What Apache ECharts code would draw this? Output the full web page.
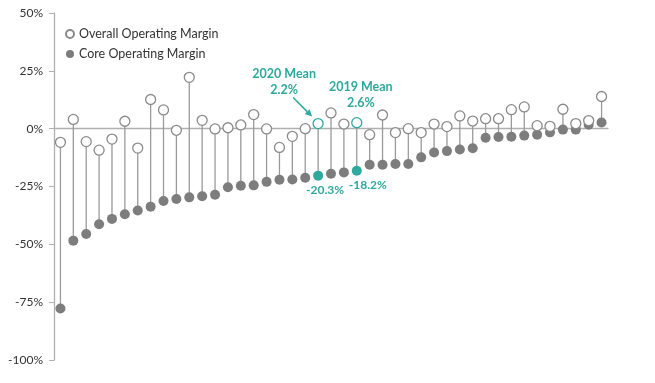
<!DOCTYPE html>
<html><head><meta charset="utf-8">
<script src="https://cdn.jsdelivr.net/npm/echarts@6/dist/echarts.min.js"></script>
<style>html,body{margin:0;padding:0;background:#fff}#c{width:655px;height:383px}</style>
</head><body><div id="c"></div>
<script>
// Data
const categories = Array.from({length: 43}, (_, i) => 'H' + (i + 1));
const overallMargin = [-5.9, 4.0, -5.6, -9.3, -4.5, 3.2, -8.4, 12.6, 8.1, -0.7, 22.2, 3.6, -0.1, 0.4, 1.6, 6.1, -0.1, -8.1, -3.3, 0.0, 2.2,
  6.8, 2.0, 2.6, -2.6, 5.9, -1.7, 0.0, -1.7, 2.0, 0.9, 5.5, 3.3, 4.3, 4.3, 8.2, 9.4, 1.3, 1.0, 8.4, 2.2, 3.5, 13.9];
const coreMargin = [-77.7, -48.4, -45.5, -41.3, -39.0, -37.0, -35.4, -33.7, -31.3, -30.4, -29.7, -29.2, -28.6, -25.3, -24.7, -24.5, -23.0, -22.1, -22.0, -21.2, -20.3,
  -19.5, -18.9, -18.2, -15.6, -15.6, -15.3, -15.3, -12.4, -10.3, -9.7, -9.0, -8.5, -3.9, -3.6, -3.5, -3.0, -2.6, -1.6, -0.4, -0.4, 1.7, 2.7];
const yTicks = [-100, -75, -50, -25, 0, 25, 50];
const mean2020Index = 20;
const mean2019Index = 23;
const mean2020 = {label: '2020 Mean', overall: '2.2%', core: '-20.3%'};
const mean2019 = {label: '2019 Mean', overall: '2.6%', core: '-18.2%'};

const TEAL = '#2ea99d';
const GRAY = '#7d7d7d';
const chart = echarts.init(document.getElementById('c'));

const overallData = overallMargin.map((v, i) => {
  if (i === mean2020Index) return {value: v, itemStyle: {borderColor: TEAL}};
  if (i === mean2019Index) return {value: v, itemStyle: {borderColor: TEAL},
    label: {show: true, position: 'top', offset: [4, -1], formatter: '{a|' + mean2019.label + '}\n{b|' + mean2019.overall + '}',
      rich: {a: {fontFamily: 'Lato', fontWeight: 'bold', fontSize: 12.5, color: TEAL, lineHeight: 16, align: 'center'},
             b: {fontFamily: 'Lato', fontWeight: 'bold', fontSize: 12.5, color: TEAL, lineHeight: 16, align: 'center'}}}};
  return v;
});
const coreData = coreMargin.map((v, i) => {
  if (i === mean2020Index || i === mean2019Index) {
    const m = i === mean2020Index ? mean2020 : mean2019;
    return {value: v, itemStyle: {color: TEAL},
      label: {show: true, position: 'bottom', offset: [i === mean2020Index ? 7 : 11, -2], formatter: m.core,
        fontFamily: 'Lato', fontWeight: 'bold', fontSize: 12, color: TEAL}};
  }
  return v;
});

chart.setOption({
  animation: false,
  grid: {left: 54, right: 47, top: 13, bottom: 23},
  legend: {
    left: 60, top: 22, orient: 'vertical', itemWidth: 8, itemHeight: 8, itemGap: 6,
    textStyle: {fontFamily: 'Lato', fontSize: 12.5, color: '#333', lineHeight: 14},
    data: ['Overall Operating Margin', 'Core Operating Margin']
  },
  xAxis: {
    type: 'category', data: categories,
    axisLine: {show: true, onZero: true, lineStyle: {color: '#b0b0b0', width: 1.3}},
    axisTick: {show: false}, axisLabel: {show: false}, splitLine: {show: false}
  },
  yAxis: {
    type: 'value', min: yTicks[0], max: yTicks[yTicks.length - 1], interval: 25,
    axisLine: {show: true, lineStyle: {color: '#b0b0b0', width: 1.3}},
    axisTick: {show: true, length: 5, lineStyle: {color: '#b0b0b0'}},
    axisLabel: {color: '#333', fontFamily: 'Lato', fontSize: 12, margin: 11, formatter: v => v + '%'},
    splitLine: {show: false}
  },
  series: [
    {
      type: 'custom', name: 'stems', silent: true, z: 1,
      data: overallMargin.map((v, i) => [i, v, coreMargin[i]]),
      encode: {x: 0, y: [1, 2]},
      renderItem: (params, api) => {
        const i = api.value(0);
        const p1 = api.coord([i, api.value(1)]);
        const p2 = api.coord([i, api.value(2)]);
        const children = [{type: 'line', shape: {x1: p1[0], y1: p1[1], x2: p2[0], y2: p2[1]},
          style: {stroke: '#9a9a9a', lineWidth: 1.3}}];
        if (i === mean2020Index) {
          const sx = p1[0] - 25, sy = p1[1] - 26, ex = p1[0] - 6, ey = p1[1] - 7;
          const ang = Math.atan2(ey - sy, ex - sx);
          const L = 7, W = 3.5;
          const bx = ex - L * Math.cos(ang), by = ey - L * Math.sin(ang);
          children.push({type: 'line', shape: {x1: sx, y1: sy, x2: bx, y2: by}, style: {stroke: TEAL, lineWidth: 1.5}});
          children.push({type: 'polygon', shape: {points: [[ex, ey],
            [bx + W * Math.sin(ang), by - W * Math.cos(ang)], [bx - W * Math.sin(ang), by + W * Math.cos(ang)]]},
            style: {fill: TEAL}});
          children.push({type: 'text', x: p1[0] - 34, y: p1[1] - 58,
            style: {text: mean2020.label + '\n' + mean2020.overall, align: 'center', verticalAlign: 'top',
              fontFamily: 'Lato', fontWeight: 'bold', fontSize: 12.5, lineHeight: 16, fill: TEAL}});
        }
        return {type: 'group', children};
      }
    },
    {
      type: 'scatter', name: 'Core Operating Margin', data: coreData, z: 3,
      symbol: 'circle', symbolSize: 10,
      itemStyle: {color: GRAY, opacity: 1}
    },
    {
      type: 'scatter', name: 'Overall Operating Margin', data: overallData, z: 4,
      symbol: 'circle', symbolSize: 10,
      itemStyle: {color: '#fff', borderColor: '#8a8a8a', borderWidth: 1.3, opacity: 1}
    }
  ]
});
</script></body></html>
